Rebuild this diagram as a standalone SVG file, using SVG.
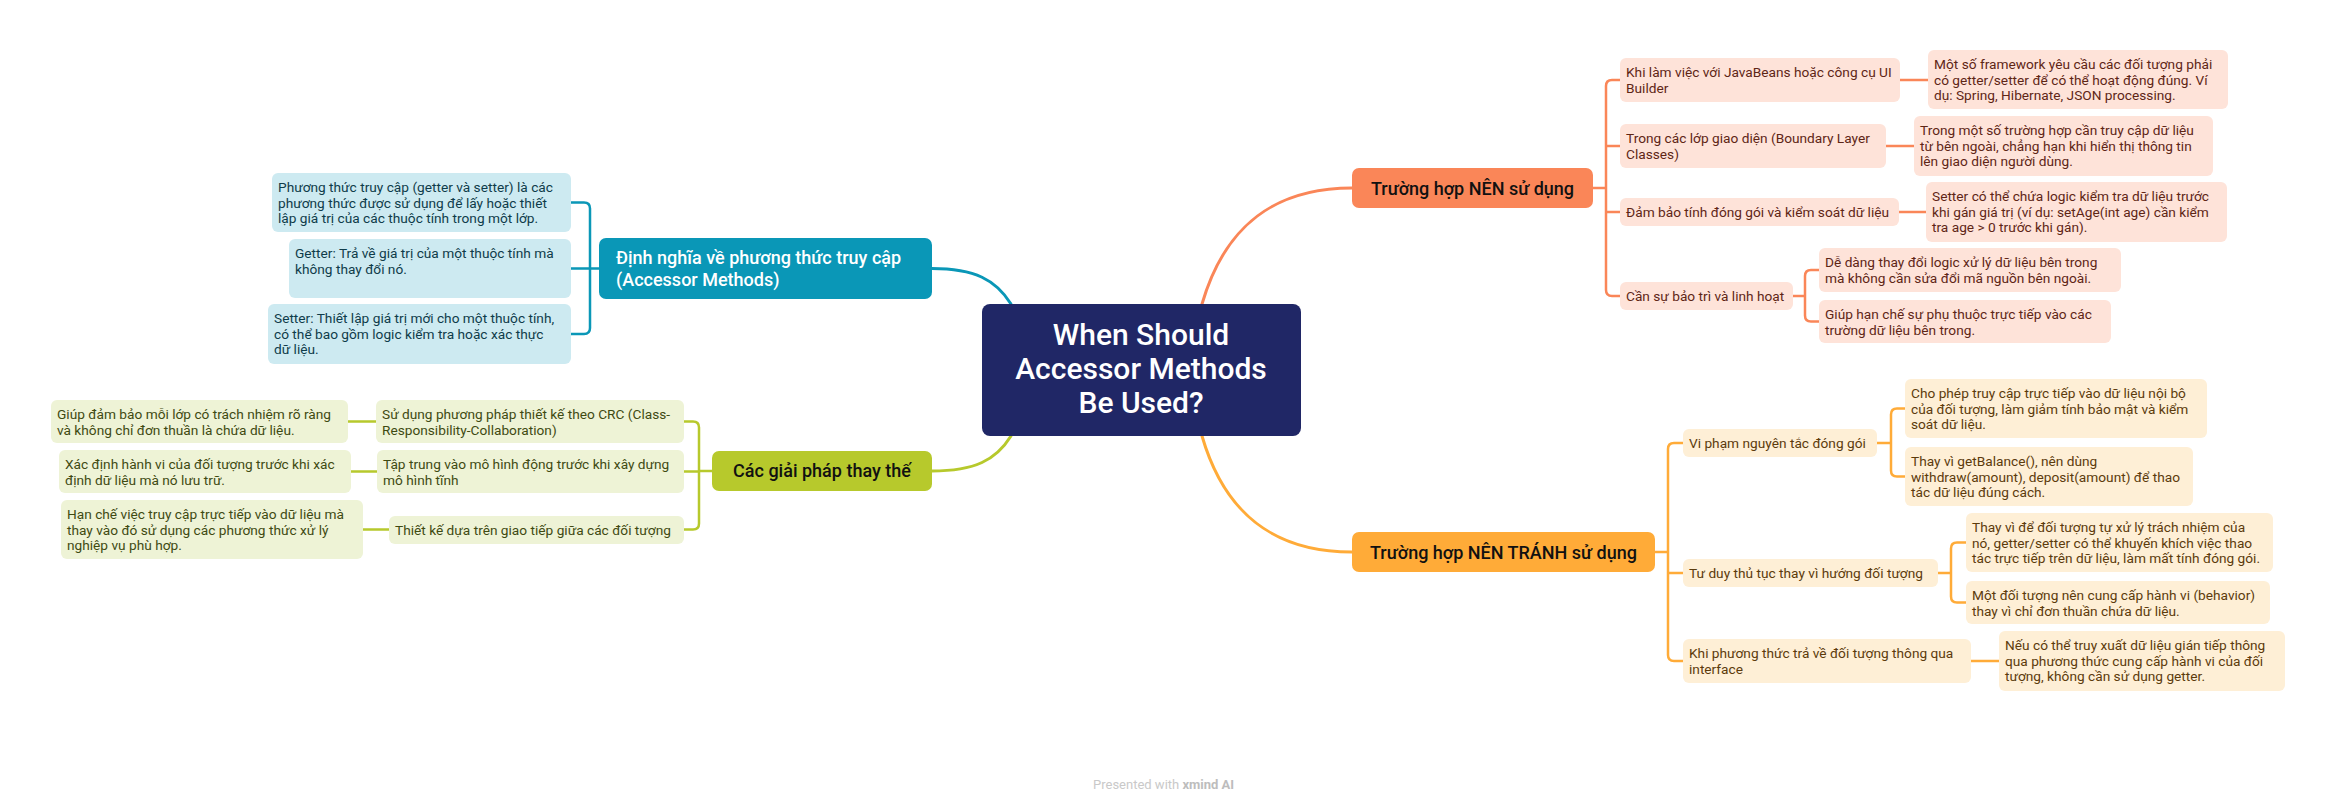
<svg xmlns="http://www.w3.org/2000/svg" width="2335" height="811" viewBox="0 0 2335 811">
<style>
text{font-family:Roboto,"Liberation Sans","Noto Sans",sans-serif}
.b{font-size:13.7px}
.ta{fill:#5e2616}.tb{fill:#5c3b0c}.tc{fill:#0f3c4a}.td{fill:#3f4a12}
.na{fill:#fee3d9}.nb{fill:#feefd6}.nc{fill:#cdeaf1}.nd{fill:#eef3d6}
.m{font-size:18px;font-weight:500}
.ca{stroke:#fa8658}.cb{stroke:#ffab38}.cc{stroke:#0a97b7}.cd{stroke:#b7c92c}
#connectors path{fill:none;stroke-width:2.5;stroke-linecap:round}
#connectors path.main{stroke-width:3}
</style>
<rect width="2335" height="811" fill="#ffffff"/>
<g id="connectors">
<path class="main ca" d="M1202,304 C1225,225 1275,188 1352,188"/>
<path class="main cb" d="M1202,436 C1225,515 1275,552 1352,552"/>
<path class="main cc" d="M932,268.5 C975,268.5 996,280 1011,304"/>
<path class="main cd" d="M932,471 C975,471 996,460 1011,436"/>
<path class="ca" d="M1593,188 H1606 M1620,80 H1612 Q1606,80 1606,86 V290 Q1606,296 1612,296 H1620 M1606,146 H1620 M1606,212 H1620"/>
<path class="ca" d="M1900,80 H1928 M1886,146 H1914 M1899,212 H1926"/>
<path class="ca" d="M1793,296 H1805 M1819,270 H1811 Q1805,270 1805,276 V315.5 Q1805,321.5 1811,321.5 H1819"/>
<path class="cb" d="M1655,552 H1668 M1683,443 H1674 Q1668,443 1668,449 V655 Q1668,661 1674,661 H1683 M1668,573 H1683"/>
<path class="cb" d="M1877,443 H1891 M1905,408.5 H1897 Q1891,408.5 1891,414.5 V470.5 Q1891,476.5 1897,476.5 H1905"/>
<path class="cb" d="M1938,573 H1951 M1966,542.5 H1957 Q1951,542.5 1951,548.5 V596.5 Q1951,602.5 1957,602.5 H1966"/>
<path class="cb" d="M1971,661 H1999"/>
<path class="cc" d="M599,268.5 H590 M571,202.5 H584 Q590,202.5 590,208.5 V328 Q590,334 584,334 H571 M590,268.5 H571"/>
<path class="cd" d="M712,471 H699 M684,421.5 H693 Q699,421.5 699,427.5 V523.5 Q699,529.5 693,529.5 H684 M699,471.5 H684"/>
<path class="cd" d="M348,421.5 H376 M351,471.5 H377 M363,529.5 H389"/>
</g>
<g id="root">
<rect x="982" y="304" width="319" height="132" rx="8" fill="#202766"/>
<text x="1141" y="345" font-size="30" font-weight="500" fill="#ffffff" text-anchor="middle">When Should</text>
<text x="1141" y="379" font-size="30" font-weight="500" fill="#ffffff" text-anchor="middle">Accessor Methods</text>
<text x="1141" y="413" font-size="30" font-weight="500" fill="#ffffff" text-anchor="middle">Be Used?</text>
</g>
<g id="branch-a">
<rect x="1352" y="168" width="241" height="40" rx="7" fill="#fa8658"/>
<text class="m" x="1472.5" y="194.5" fill="#111" text-anchor="middle">Trường hợp NÊN sử dụng</text>
</g>
<g id="a1"><rect class="na" x="1620" y="58" width="280" height="44" rx="6"/>
<text class="b ta" x="1626" y="77">Khi làm việc với JavaBeans hoặc công cụ UI</text><text class="b ta" x="1626" y="92.5">Builder</text></g>
<g id="a1a"><rect class="na" x="1928" y="50" width="300" height="59" rx="6"/>
<text class="b ta" x="1934" y="69">Một số framework yêu cầu các đối tượng phải</text><text class="b ta" x="1934" y="84.5">có getter/setter để có thể hoạt động đúng. Ví</text><text class="b ta" x="1934" y="100">dụ: Spring, Hibernate, JSON processing.</text></g>
<g id="a2"><rect class="na" x="1620" y="124" width="266" height="44" rx="6"/>
<text class="b ta" x="1626" y="143">Trong các lớp giao diện (Boundary Layer</text><text class="b ta" x="1626" y="158.5">Classes)</text></g>
<g id="a2a"><rect class="na" x="1914" y="116" width="299" height="60" rx="6"/>
<text class="b ta" x="1920" y="135">Trong một số trường hợp cần truy cập dữ liệu</text><text class="b ta" x="1920" y="150.5">từ bên ngoài, chẳng hạn khi hiển thị thông tin</text><text class="b ta" x="1920" y="166">lên giao diện người dùng.</text></g>
<g id="a3"><rect class="na" x="1620" y="198" width="279" height="28" rx="6"/>
<text class="b ta" x="1626" y="217">Đảm bảo tính đóng gói và kiểm soát dữ liệu</text></g>
<g id="a3a"><rect class="na" x="1926" y="182" width="301" height="60" rx="6"/>
<text class="b ta" x="1932" y="201">Setter có thể chứa logic kiểm tra dữ liệu trước</text><text class="b ta" x="1932" y="216.5">khi gán giá trị (ví dụ: setAge(int age) cần kiểm</text><text class="b ta" x="1932" y="232">tra age &gt; 0 trước khi gán).</text></g>
<g id="a4"><rect class="na" x="1620" y="282" width="173" height="28" rx="6"/>
<text class="b ta" x="1626" y="301">Cần sự bảo trì và linh hoạt</text></g>
<g id="a4a"><rect class="na" x="1819" y="248" width="302" height="44" rx="6"/>
<text class="b ta" x="1825" y="267">Dễ dàng thay đổi logic xử lý dữ liệu bên trong</text><text class="b ta" x="1825" y="282.5">mà không cần sửa đổi mã nguồn bên ngoài.</text></g>
<g id="a4b"><rect class="na" x="1819" y="300" width="292" height="43" rx="6"/>
<text class="b ta" x="1825" y="319">Giúp hạn chế sự phụ thuộc trực tiếp vào các</text><text class="b ta" x="1825" y="334.5">trường dữ liệu bên trong.</text></g>
<g id="branch-b">
<rect x="1352" y="532" width="303" height="40" rx="7" fill="#ffab38"/>
<text class="m" x="1503.5" y="558.5" fill="#111" text-anchor="middle">Trường hợp NÊN TRÁNH sử dụng</text>
</g>
<g id="b1"><rect class="nb" x="1683" y="429" width="194" height="28" rx="6"/>
<text class="b tb" x="1689" y="448">Vi phạm nguyên tắc đóng gói</text></g>
<g id="b1a"><rect class="nb" x="1905" y="379" width="302" height="59" rx="6"/>
<text class="b tb" x="1911" y="398">Cho phép truy cập trực tiếp vào dữ liệu nội bộ</text><text class="b tb" x="1911" y="413.5">của đối tượng, làm giảm tính bảo mật và kiểm</text><text class="b tb" x="1911" y="429">soát dữ liệu.</text></g>
<g id="b1b"><rect class="nb" x="1905" y="447" width="288" height="59" rx="6"/>
<text class="b tb" x="1911" y="466">Thay vì getBalance(), nên dùng</text><text class="b tb" x="1911" y="481.5">withdraw(amount), deposit(amount) để thao</text><text class="b tb" x="1911" y="497">tác dữ liệu đúng cách.</text></g>
<g id="b2"><rect class="nb" x="1683" y="559" width="255" height="28" rx="6"/>
<text class="b tb" x="1689" y="578">Tư duy thủ tục thay vì hướng đối tượng</text></g>
<g id="b2a"><rect class="nb" x="1966" y="513" width="307" height="59" rx="6"/>
<text class="b tb" x="1972" y="532">Thay vì để đối tượng tự xử lý trách nhiệm của</text><text class="b tb" x="1972" y="547.5">nó, getter/setter có thể khuyến khích việc thao</text><text class="b tb" x="1972" y="563">tác trực tiếp trên dữ liệu, làm mất tính đóng gói.</text></g>
<g id="b2b"><rect class="nb" x="1966" y="581" width="304" height="43" rx="6"/>
<text class="b tb" x="1972" y="600">Một đối tượng nên cung cấp hành vi (behavior)</text><text class="b tb" x="1972" y="615.5">thay vì chỉ đơn thuần chứa dữ liệu.</text></g>
<g id="b3"><rect class="nb" x="1683" y="639" width="288" height="44" rx="6"/>
<text class="b tb" x="1689" y="658">Khi phương thức trả về đối tượng thông qua</text><text class="b tb" x="1689" y="673.5">interface</text></g>
<g id="b3a"><rect class="nb" x="1999" y="631" width="286" height="60" rx="6"/>
<text class="b tb" x="2005" y="650">Nếu có thể truy xuất dữ liệu gián tiếp thông</text><text class="b tb" x="2005" y="665.5">qua phương thức cung cấp hành vi của đối</text><text class="b tb" x="2005" y="681">tượng, không cần sử dụng getter.</text></g>
<g id="branch-c">
<rect x="599" y="238" width="333" height="61" rx="7" fill="#0a97b7"/>
<text class="m" x="616" y="264" fill="#ffffff">Định nghĩa về phương thức truy cập</text>
<text class="m" x="616" y="286" fill="#ffffff">(Accessor Methods)</text>
</g>
<g id="c1"><rect class="nc" x="272" y="173" width="299" height="59" rx="6"/>
<text class="b tc" x="278" y="192">Phương thức truy cập (getter và setter) là các</text><text class="b tc" x="278" y="207.5">phương thức được sử dụng để lấy hoặc thiết</text><text class="b tc" x="278" y="223">lập giá trị của các thuộc tính trong một lớp.</text></g>
<g id="c2"><rect class="nc" x="289" y="239" width="282" height="59" rx="6"/>
<text class="b tc" x="295" y="258">Getter: Trả về giá trị của một thuộc tính mà</text><text class="b tc" x="295" y="273.5">không thay đổi nó.</text></g>
<g id="c3"><rect class="nc" x="268" y="304" width="303" height="60" rx="6"/>
<text class="b tc" x="274" y="323">Setter: Thiết lập giá trị mới cho một thuộc tính,</text><text class="b tc" x="274" y="338.5">có thể bao gồm logic kiểm tra hoặc xác thực</text><text class="b tc" x="274" y="354">dữ liệu.</text></g>
<g id="branch-d">
<rect x="712" y="451" width="220" height="40" rx="7" fill="#b7c92c"/>
<text class="m" x="822" y="477" fill="#111" text-anchor="middle">Các giải pháp thay thế</text>
</g>
<g id="d1"><rect class="nd" x="376" y="400" width="308" height="43" rx="6"/>
<text class="b td" x="382" y="419">Sử dụng phương pháp thiết kế theo CRC (Class-</text><text class="b td" x="382" y="434.5">Responsibility-Collaboration)</text></g>
<g id="d1a"><rect class="nd" x="51" y="400" width="297" height="43" rx="6"/>
<text class="b td" x="57" y="419">Giúp đảm bảo mỗi lớp có trách nhiệm rõ ràng</text><text class="b td" x="57" y="434.5">và không chỉ đơn thuần là chứa dữ liệu.</text></g>
<g id="d2"><rect class="nd" x="377" y="450" width="307" height="43" rx="6"/>
<text class="b td" x="383" y="469">Tập trung vào mô hình động trước khi xây dựng</text><text class="b td" x="383" y="484.5">mô hình tĩnh</text></g>
<g id="d2a"><rect class="nd" x="59" y="450" width="292" height="43" rx="6"/>
<text class="b td" x="65" y="469">Xác định hành vi của đối tượng trước khi xác</text><text class="b td" x="65" y="484.5">định dữ liệu mà nó lưu trữ.</text></g>
<g id="d3"><rect class="nd" x="389" y="516" width="295" height="28" rx="6"/>
<text class="b td" x="395" y="534.5">Thiết kế dựa trên giao tiếp giữa các đối tượng</text></g>
<g id="d3a"><rect class="nd" x="61" y="500" width="302" height="59" rx="6"/>
<text class="b td" x="67" y="519">Hạn chế việc truy cập trực tiếp vào dữ liệu mà</text><text class="b td" x="67" y="534.5">thay vào đó sử dụng các phương thức xử lý</text><text class="b td" x="67" y="550">nghiệp vụ phù hợp.</text></g>
<g id="footer">
<text x="1093" y="789" font-size="13" fill="#c9c9c9">Presented with <tspan font-weight="700" fill="#bdbdbd">xmind AI</tspan></text>
</g>
</svg>
